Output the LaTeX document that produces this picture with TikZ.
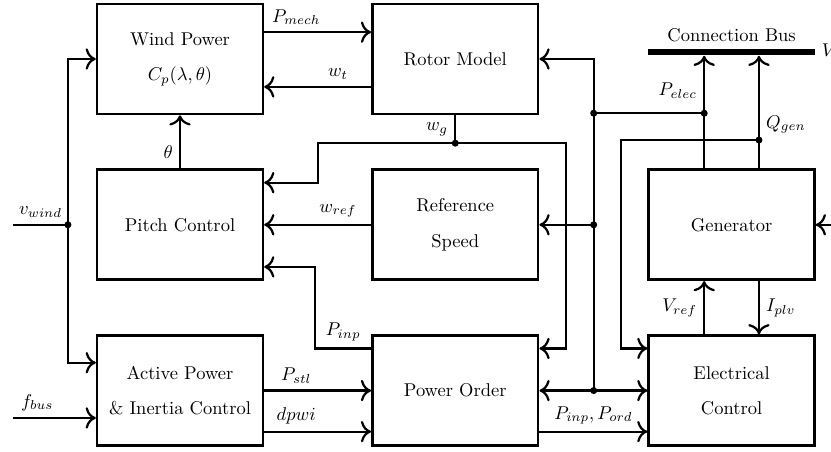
\documentclass[tikz,border=0pt]{standalone}
\usepackage{amsmath,amssymb}
\usepackage{tikz}
\usetikzlibrary{shapes,arrows.meta,positioning}
\tikzset{
    block/.style={rectangle, draw=black, line width=1.4pt, minimum width=3.15cm, minimum height=2.09cm, align=center},
    busbar/.style={rectangle, fill=black, inner sep=0pt, minimum width=3.17cm, minimum height=0.13cm},
    wire/.style={very thick, black},
    sig/.style={very thick, black, -{To[scale=1.3]}},
    junc/.style={circle, fill=black, inner sep=0pt, minimum size=3.8pt},
}

\begin{document}
\begin{tikzpicture}[scale=1]
    \useasboundingbox (-3.42,-7.448) rectangle (12.369,1.121);
    % blocks
    \node[block] (wind) at (0,0) {Wind Power\\[7pt]$C_p(\lambda,\theta)$};
    \node[block] (rotor) at (5.23,0) {Rotor Model};
    \node[block] (pitch) at (0,-3.15) {Pitch Control};
    \node[block] (refsp) at (5.23,-3.15) {Reference\\[7pt]Speed};
    \node[block] (gen) at (10.48,-3.15) {Generator};
    \node[block] (act) at (0,-6.3) {Active Power\\[7pt]\& Inertia Control};
    \node[block] (po) at (5.23,-6.3) {Power Order};
    \node[block] (el) at (10.48,-6.3) {Electrical\\[7pt]Control};
    \node[busbar, label=above:{Connection Bus}] (bus) at (10.48,0.133) {};
    \node[right] (vbus) at (bus.east) {$V_{bus}$};

    % junctions and free ends
    \coordinate (vj) at (-2.13,-3.15);
    \coordinate (wg) at (5.23,-1.6);
    \coordinate (pj) at (7.86,-1.03);
    \coordinate (pr) at (7.86,-3.15);
    \coordinate (pd) at (7.86,-6.3);
    \coordinate (pb) at (9.96,-1.03);
    \coordinate (qj) at (11.0,-1.54);
    \coordinate (vin) at (-3.17,-3.15);
    \coordinate (fin) at (-3.17,-6.82);
    \coordinate (gin) at (12.6,-3.15);
    \foreach \j in {vj,wg,pj,pr,pd,pb,qj} {
        \node[junc] at (\j) {};
    }

    % inputs
    \draw[wire] (vin) -- (vj) node[midway, above] {$v_{wind}$};
    \draw[sig] (vj) |- (wind.west);
    \draw[sig] (vj) |- ([yshift=0.53cm]act.west);
    \draw[sig] (fin) -- (fin -| act.west) node[pos=0.29, above] {$f_{bus}$};
    \draw[sig] (gin) -- (gen.east);

    % mechanical side
    \draw[sig] ([yshift=0.51cm]wind.east) -- ([yshift=0.51cm]rotor.west) node[pos=0.3, above] {$P_{mech}$};
    \draw[sig] ([yshift=-0.53cm]rotor.west) -- ([yshift=-0.53cm]wind.east) node[pos=0.31, above] {$w_t$};
    \draw[sig] (pitch) -- (wind) node[pos=0.3, left] {$\theta$};
    \draw[sig] (refsp) -- (pitch) node[pos=0.31, above] {$w_{ref}$};
    \draw[sig] ([yshift=0.8cm]po.west) -- ++(-1.06,0) node[midway, above] {$P_{inp}$} |- ([yshift=-0.8cm]pitch.east);
    \draw[sig] (act) -- (po) node[pos=0.3, above] {$P_{stl}$};
    \draw[sig] ([yshift=-0.78cm]act.east) -- ([yshift=-0.78cm]po.west) node[pos=0.3, above] {$dpwi$};

    % generator speed
    \draw[wire] (rotor) -- (wg) node[midway, left] {$w_g$};
    \draw[sig] (wg) -- (2.62,-1.6) |- ([yshift=0.8cm]pitch.east);
    \draw[sig] (wg) -- (7.33,-1.6) |- ([yshift=0.8cm]po.east);

    % electrical power
    \draw[sig] ([xshift=-0.52cm]gen.north) -- ([xshift=-0.52cm]bus.south) node[pos=0.69, left] {$P_{elec}$};
    \draw[wire] (pb) -- (pj);
    \draw[sig] (pj) |- (rotor.east);
    \draw[wire] (pj) -- (pd);
    \draw[sig] (pr) -- (refsp.east);
    \draw[sig] (pd) -- (po.east);
    \draw[sig] (pd) -- (el.west);

    % reactive power and control
    \draw[sig] ([xshift=0.52cm]gen.north) -- ([xshift=0.52cm]bus.south) node[pos=0.39, right] {$Q_{gen}$};
    \draw[sig] (qj) -- (8.38,-1.54) |- ([yshift=0.8cm]el.west);
    \draw[sig] ([xshift=-0.52cm]el.north) -- ([xshift=-0.52cm]gen.south) node[midway, left] {$V_{ref}$};
    \draw[sig] ([xshift=0.52cm]gen.south) -- ([xshift=0.52cm]el.north) node[midway, right] {$I_{plv}$};
    \draw[sig] ([yshift=-0.78cm]po.east) -- ([yshift=-0.78cm]el.west) node[midway, above] {$P_{inp}, P_{ord}$};
\end{tikzpicture}
\end{document}
